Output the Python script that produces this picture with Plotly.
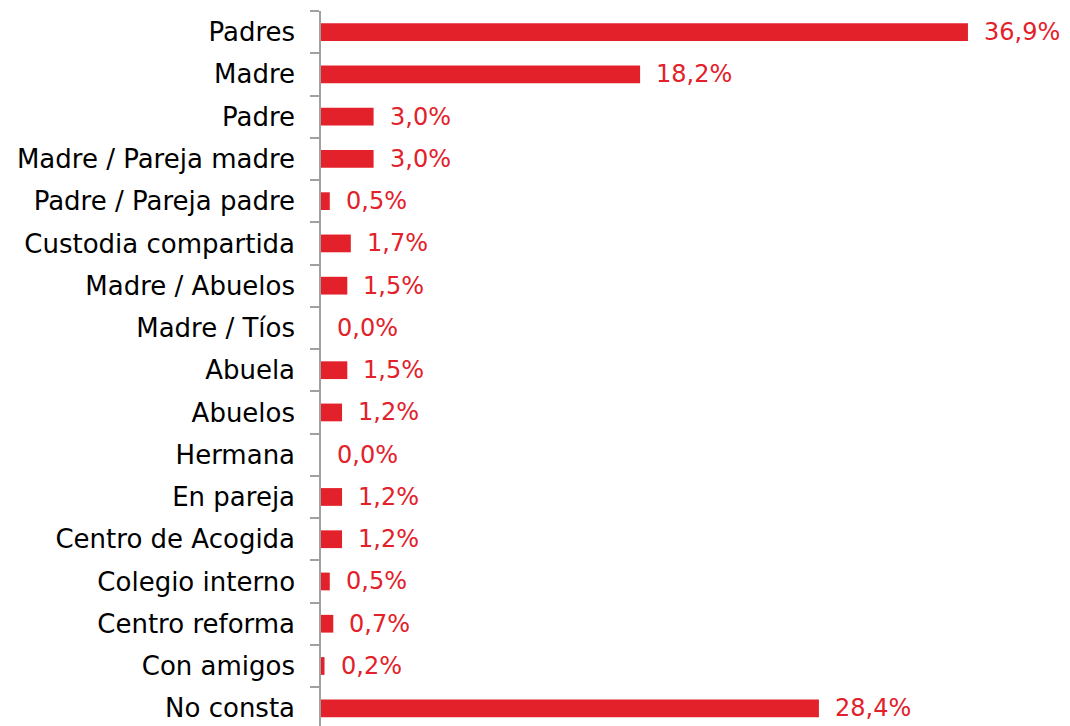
import plotly.graph_objects as go

categories = ["Padres", "Madre", "Padre", "Madre / Pareja madre", "Padre / Pareja padre",
              "Custodia compartida", "Madre / Abuelos", "Madre / Tíos", "Abuela", "Abuelos",
              "Hermana", "En pareja", "Centro de Acogida", "Colegio interno", "Centro reforma",
              "Con amigos", "No consta"]
values = [36.9, 18.2, 3.0, 3.0, 0.5, 1.7, 1.5, 0.0, 1.5, 1.2, 0.0, 1.2, 1.2, 0.5, 0.7, 0.2, 28.4]
value_labels = [f"{v:.1f}%".replace(".", ",") for v in values]

RED = "#E2212A"
FONT = "DejaVu Sans"

fig = go.Figure()
fig.add_trace(go.Bar(
    y=categories, x=values, orientation="h",
    marker=dict(color=RED, line=dict(width=0)),
    hoverinfo="skip",
))
for c, v, t in zip(categories, values, value_labels):
    fig.add_annotation(x=v, y=c, text=t, showarrow=False, xanchor="left", xshift=14,
                       font=dict(family=FONT, size=24, color=RED))

fig.update_layout(
    width=1062, height=718,
    margin=dict(l=313, r=0, t=3, b=0),
    plot_bgcolor="white", paper_bgcolor="white",
    bargap=0.58, showlegend=False,
    xaxis=dict(range=[0, 42.72], visible=False, showgrid=False, zeroline=False),
    yaxis=dict(type="category", categoryorder="array", categoryarray=categories,
               range=[16.42, -0.5], showline=True, linecolor="#A0A0A0", linewidth=1.5,
               ticks="outside", tickson="boundaries", ticklen=9, tickcolor="#A0A0A0",
               tickwidth=1.5, ticklabelstandoff=19, showgrid=False,
               tickfont=dict(family=FONT, size=26, color="black")),
)
fig.write_html("out.html")
